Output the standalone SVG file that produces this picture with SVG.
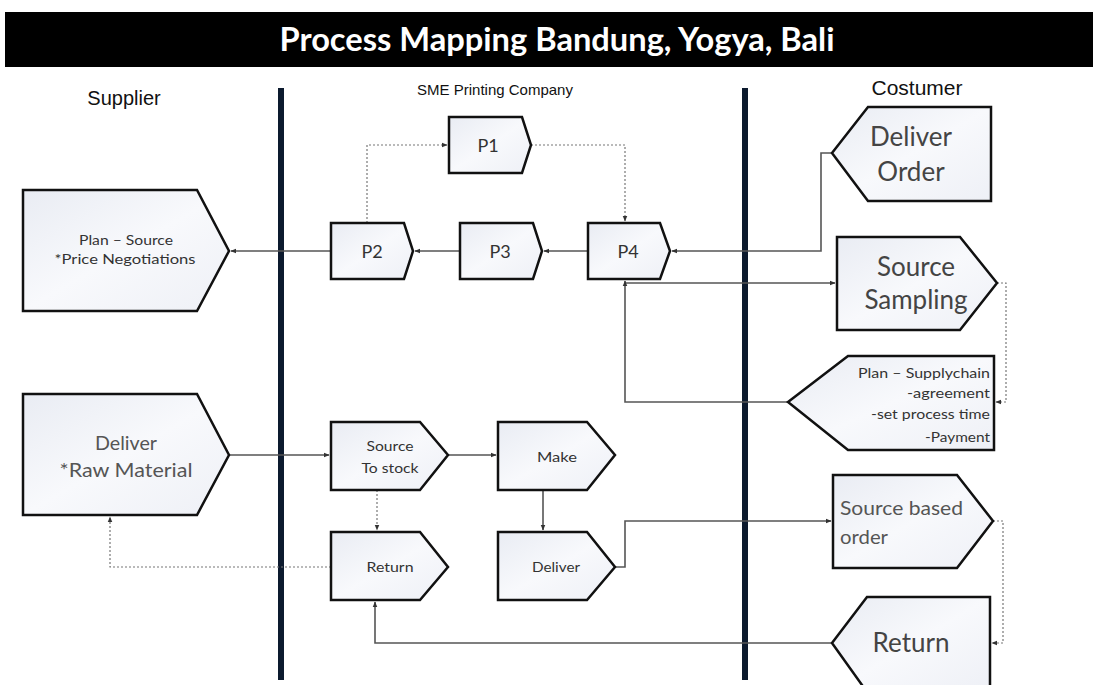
<svg xmlns="http://www.w3.org/2000/svg" width="1093" height="685" viewBox="0 0 1093 685">
<defs>
<linearGradient id="g" x1="0" y1="0" x2="1" y2="1">
<stop offset="0" stop-color="#e9ecf3"/>
<stop offset="0.5" stop-color="#f8f9fc"/>
<stop offset="1" stop-color="#eef0f6"/>
</linearGradient>
<marker id="ah" viewBox="0 0 10 10" refX="9" refY="5" markerWidth="6" markerHeight="6" orient="auto" markerUnits="userSpaceOnUse">
<path d="M0,1 L10,5 L0,9 z" fill="#333"/>
</marker>
</defs>
<style>
.node{fill:url(#g);stroke:#111;stroke-width:2.5;stroke-linejoin:miter}
.conn{fill:none;stroke:#555;stroke-width:1.6}
.dot{fill:none;stroke:#777;stroke-width:1.2;stroke-dasharray:2 2}
.lane{stroke:#0c1a2e;stroke-width:6}
.hdr{font-family:"Liberation Sans",Arial,sans-serif;fill:#111;text-anchor:middle}
.t{font-family:Lato,"Noto Sans",sans-serif;fill:#333;text-anchor:middle}
.ts{font-family:Lato,"Noto Sans",sans-serif;fill:#555;text-anchor:start}
.te{font-family:Lato,"Noto Sans",sans-serif;fill:#333;text-anchor:end}
.big{font-size:26px;fill:#444}
.med{font-size:20px;fill:#555}
.sm{font-size:13px}
.p{font-size:18px}
</style>
<rect x="0" y="0" width="1093" height="685" fill="#fff"/>
<g id="title">
<rect x="5" y="12" width="1088" height="55" fill="#000"/>
<text x="557" y="51" font-family="Lato,'Open Sans',sans-serif" font-weight="bold" font-size="32" fill="#fff" text-anchor="middle" textLength="555" lengthAdjust="spacingAndGlyphs">Process Mapping Bandung, Yogya, Bali</text>
</g>
<g id="headers">
<text class="hdr" x="124" y="105" font-size="20">Supplier</text>
<text class="hdr" x="495" y="95" font-size="15">SME Printing Company</text>
<text class="hdr" x="917" y="95" font-size="21">Costumer</text>
</g>
<g id="lanes">
<line class="lane" x1="281" y1="88" x2="281" y2="680"/>
<line class="lane" x1="745" y1="88" x2="745" y2="680"/>
</g>
<g id="connectors">
<path class="dot" d="M367,223 V145 H447" marker-end="url(#ah)"/>
<path class="dot" d="M531,145 H625 V221" marker-end="url(#ah)"/>
<path class="conn" d="M331,251 H231" marker-end="url(#ah)"/>
<path class="conn" d="M460,251 H415" marker-end="url(#ah)"/>
<path class="conn" d="M588,251 H544" marker-end="url(#ah)"/>
<path class="conn" d="M832,153 H821 V251 H672" marker-end="url(#ah)"/>
<path class="conn" d="M625,283 H835" marker-end="url(#ah)"/>
<path class="conn" d="M788,402 H625 V281" marker-end="url(#ah)"/>
<path class="dot" d="M997,283 H1006 V402 H996" marker-end="url(#ah)"/>
<path class="conn" d="M229,455 H329" marker-end="url(#ah)"/>
<path class="conn" d="M448,455 H496" marker-end="url(#ah)"/>
<path class="dot" d="M377,490 V530" marker-end="url(#ah)"/>
<path class="conn" d="M543,490 V530" marker-end="url(#ah)"/>
<path class="dot" d="M331,567 H110 V517" marker-end="url(#ah)"/>
<path class="conn" d="M615,567 H625 V521 H831" marker-end="url(#ah)"/>
<path class="dot" d="M993,521 H1003 V643 H992" marker-end="url(#ah)"/>
<path class="conn" d="M832,643 H375 V602" marker-end="url(#ah)"/>
</g>
<g id="plan-source">
<path class="node" d="M23,190 H197 L229,251 L197,311 H23 Z"/>
<text class="t sm" x="126" y="245" textLength="94" lengthAdjust="spacingAndGlyphs">Plan – Source</text>
<text class="t sm" x="125" y="264" textLength="141" lengthAdjust="spacingAndGlyphs">*Price Negotiations</text>
</g>
<g id="p1">
<path class="node" d="M449,117 H522 L531,145 L522,173 H449 Z"/>
<text class="t p" x="488" y="152">P1</text>
</g>
<g id="p2">
<path class="node" d="M331,223 H404 L413,251 L404,279 H331 Z"/>
<text class="t p" x="372" y="258">P2</text>
</g>
<g id="p3">
<path class="node" d="M460,223 H533 L542,251 L533,279 H460 Z"/>
<text class="t p" x="500" y="258">P3</text>
</g>
<g id="p4">
<path class="node" d="M588,223 H660 L670,251 L660,279 H588 Z"/>
<text class="t p" x="628" y="258">P4</text>
</g>
<g id="deliver-order">
<path class="node" d="M832,153 L868,107 H991 V201 H868 Z"/>
<text class="t big" x="911" y="146">Deliver</text>
<text class="t big" x="911" y="181">Order</text>
</g>
<g id="source-sampling">
<path class="node" d="M837,237 H960 L997,283 L960,330 H837 Z"/>
<text class="t big" x="916" y="276">Source</text>
<text class="t big" x="916" y="309">Sampling</text>
</g>
<g id="plan-supplychain">
<path class="node" d="M788,402 L848,356 H994 V450 H848 Z"/>
<text class="te sm" x="990" y="378" textLength="132" lengthAdjust="spacingAndGlyphs">Plan – Supplychain</text>
<text class="te sm" x="990" y="398" textLength="83" lengthAdjust="spacingAndGlyphs">-agreement</text>
<text class="te sm" x="990" y="419" textLength="119" lengthAdjust="spacingAndGlyphs">-set process time</text>
<text class="te sm" x="990" y="442" textLength="65" lengthAdjust="spacingAndGlyphs">-Payment</text>
</g>
<g id="deliver-raw">
<path class="node" d="M23,394 H197 L229,455 L197,515 H23 Z"/>
<text class="t med" x="126" y="450" textLength="62" lengthAdjust="spacingAndGlyphs">Deliver</text>
<text class="t med" x="126" y="477" textLength="133" lengthAdjust="spacingAndGlyphs">*Raw Material</text>
</g>
<g id="source-to-stock">
<path class="node" d="M331,422 H420 L448,455 L420,490 H331 Z"/>
<text class="t sm" x="390" y="451" textLength="47" lengthAdjust="spacingAndGlyphs">Source</text>
<text class="t sm" x="390" y="473" textLength="57" lengthAdjust="spacingAndGlyphs">To stock</text>
</g>
<g id="make">
<path class="node" d="M498,422 H587 L615,455 L587,490 H498 Z"/>
<text class="t sm" x="557" y="462" textLength="40" lengthAdjust="spacingAndGlyphs">Make</text>
</g>
<g id="return-sme">
<path class="node" d="M331,532 H420 L448,567 L420,600 H331 Z"/>
<text class="t sm" x="390" y="572" textLength="47" lengthAdjust="spacingAndGlyphs">Return</text>
</g>
<g id="deliver-sme">
<path class="node" d="M498,532 H587 L615,567 L587,600 H498 Z"/>
<text class="t sm" x="556" y="572" textLength="48" lengthAdjust="spacingAndGlyphs">Deliver</text>
</g>
<g id="source-based-order">
<path class="node" d="M833,475 H957 L993,521 L957,568 H833 Z"/>
<text class="ts med" x="840" y="515" textLength="123" lengthAdjust="spacingAndGlyphs">Source based</text>
<text class="ts med" x="840" y="544" textLength="48" lengthAdjust="spacingAndGlyphs">order</text>
</g>
<g id="return-customer">
<path class="node" d="M832,643 L867,597 H990 V692 H867 Z"/>
<text class="t big" x="911" y="652">Return</text>
</g>
</svg>
